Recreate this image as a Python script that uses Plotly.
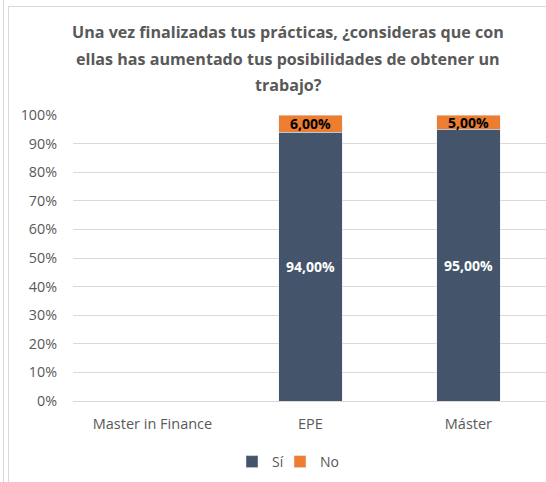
import plotly.graph_objects as go

categories = ["Master in Finance", "EPE", "Máster"]
si_values = [None, 94.0, 95.0]
no_values = [None, 6.0, 5.0]
title_lines = [
    "Una vez finalizadas tus prácticas, ¿consideras que con",
    "ellas has aumentado tus posibilidades de obtener un",
    "trabajo?",
]
y_ticks = [0, 10, 20, 30, 40, 50, 60, 70, 80, 90, 100]
y_tick_labels = [f"{v}%" for v in y_ticks]

W, H = 546, 482
L, R, T, B = 73, 0, 115, 81
PW, PH = W - L - R, H - T - B

def px_x(px):
    return (px - L) / PW

def px_y(py):
    return (H - B - py) / PH

FONT = "Open Sans"
GRAY = "#595959"

fig = go.Figure()
fig.add_trace(go.Bar(
    x=categories, y=si_values, name="Sí", marker_color="#44546A",
    width=0.4, texttemplate="%{y:.2f}%", textposition="inside",
    insidetextanchor="middle", constraintext="none",
    textfont=dict(family=FONT, size=14, color="white", weight="bold"),
    hoverinfo="skip", legend="legend",
))
fig.add_trace(go.Bar(
    x=categories, y=no_values, name="No", marker_color="#ED7D31",
    width=0.4, texttemplate="%{y:.2f}%", textposition="inside",
    insidetextanchor="middle", constraintext="none",
    textfont=dict(family=FONT, size=14, color="black", weight="bold"),
    hoverinfo="skip", legend="legend2",
))

annotations = []
for line, py in zip(title_lines, [32, 59, 85]):
    annotations.append(dict(
        text=line, x=px_x(288), y=px_y(py), xref="paper", yref="paper",
        xanchor="center", yanchor="middle", showarrow=False,
        font=dict(family=FONT, size=16.1, color=GRAY, weight="bold"),
    ))

shapes = [
    dict(type="line", xref="paper", yref="paper", x0=px_x(3.5), x1=px_x(3.5),
         y0=px_y(0), y1=px_y(482), line=dict(color="#D9D9D9", width=1)),
    dict(type="line", xref="paper", yref="paper", x0=px_x(8.5), x1=px_x(8.5),
         y0=px_y(6), y1=px_y(482), line=dict(color="#D9D9D9", width=1)),
    dict(type="line", xref="paper", yref="paper", x0=px_x(8.5), x1=px_x(546),
         y0=px_y(6.5), y1=px_y(6.5), line=dict(color="#D9D9D9", width=1)),
]

legend_common = dict(orientation="h", xanchor="left", yanchor="middle",
                     y=px_y(462), font=dict(size=14, color=GRAY),
                     itemwidth=30, bgcolor="rgba(0,0,0,0)")

fig.update_layout(
    width=W, height=H, margin=dict(l=L, r=R, t=T, b=B),
    barmode="stack", separators=",.",
    plot_bgcolor="white", paper_bgcolor="white",
    font=dict(family=FONT, size=14, color=GRAY),
    showlegend=True,
    legend=dict(x=px_x(232), **legend_common),
    legend2=dict(x=px_x(280), **legend_common),
    annotations=annotations, shapes=shapes,
)
fig.update_xaxes(range=[-0.503, 2.491], showgrid=False, showline=True,
                 linecolor="#D9D9D9", linewidth=1, ticks="",
                 ticklabelstandoff=10,
                 tickfont=dict(size=14.5, color=GRAY), fixedrange=True)
fig.update_yaxes(range=[0, 100], tickvals=y_ticks, ticktext=y_tick_labels,
                 showgrid=True, gridcolor="#D9D9D9", gridwidth=1,
                 zeroline=False, showline=False, ticks="",
                 ticklabelstandoff=15,
                 tickfont=dict(size=14.3, color=GRAY), fixedrange=True)

fig.write_html("out.html", config={"displayModeBar": False},
               post_script="document.body.style.margin='0';")
